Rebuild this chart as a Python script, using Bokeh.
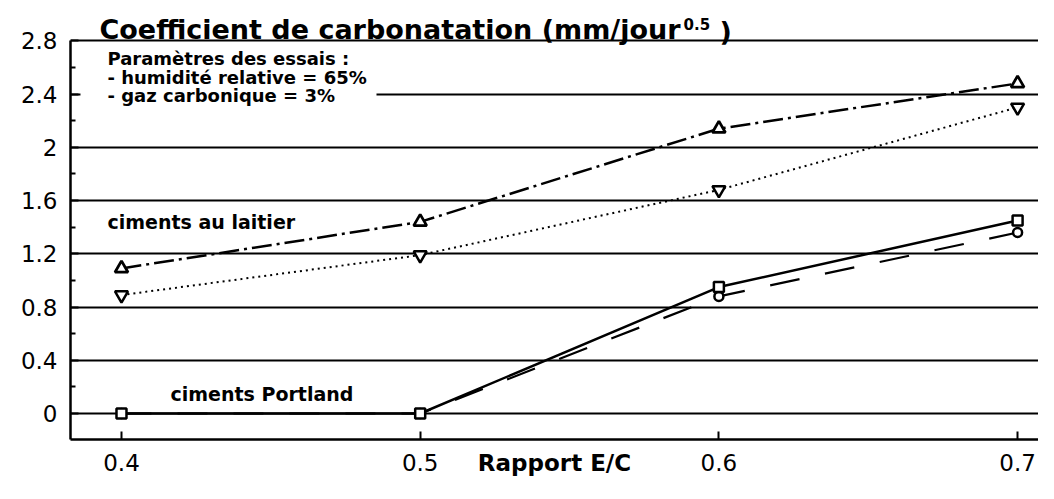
from bokeh.plotting import figure
from bokeh.models import (Range1d, FixedTicker, CustomJSTickFormatter, Label,
                          BoxAnnotation)
from bokeh.embed import file_html
from bokeh.resources import INLINE

# ---- data ----
ratio_ec = [0.4, 0.5, 0.6, 0.7]
laitier_triangle = [1.09, 1.44, 2.14, 2.48]
laitier_inverse = [0.89, 1.19, 1.68, 2.30]
portland_carre = [0.0, 0.0, 0.95, 1.45]
portland_cercle = [0.0, 0.0, 0.88, 1.36]
y_ticks = [0, 0.4, 0.8, 1.2, 1.6, 2.0, 2.4, 2.8]
x_ticks = [0.4, 0.5, 0.6, 0.7]

title_main = "Coefficient de carbonatation (mm/jour"
title_sup = "0.5"
title_end = ")"
x_label = "Rapport E/C"
params = ["Paramètres des essais :", "- humidité relative = 65%", "- gaz carbonique = 3%"]
lab_laitier = "ciments au laitier"
lab_portland = "ciments Portland"

FONT = "DejaVu Sans"
INK = "#000000"

p = figure(width=1038, height=483, output_backend="svg", toolbar_location=None,
           x_range=Range1d(0.38293, 0.7070), y_range=Range1d(-0.1953, 3.103),
           min_border_left=70, min_border_right=0, min_border_top=0, min_border_bottom=44)
p.outline_line_color = None
p.background_fill_color = "white"
p.border_fill_color = "white"

# grid
p.xgrid.visible = False
p.ygrid.ticker = FixedTicker(ticks=y_ticks)
p.ygrid.grid_line_color = INK
p.ygrid.grid_line_width = 1.8
p.ygrid.grid_line_alpha = 1.0

fmt = CustomJSTickFormatter(code="return tick.toFixed(1).replace(/\\.0$/, '');")

minor_y = [(a + b) / 2 for a, b in zip(y_ticks[:-1], y_ticks[1:])]
p.yaxis.ticker = FixedTicker(ticks=y_ticks, minor_ticks=minor_y)
p.yaxis.bounds = (-0.1953, y_ticks[-1])
p.xaxis.ticker = FixedTicker(ticks=x_ticks, minor_ticks=[])
for ax in (p.xaxis, p.yaxis):
    ax.formatter = fmt
    ax.axis_line_color = INK
    ax.axis_line_width = 2.5
    ax.major_tick_line_color = INK
    ax.major_tick_line_width = 2
    ax.major_tick_in = 8
    ax.major_tick_out = 0
    ax.minor_tick_line_color = INK
    ax.minor_tick_line_width = 2
    ax.minor_tick_in = 5
    ax.minor_tick_out = 0
    ax.major_label_text_font = FONT
    ax.major_label_text_font_size = "23px"
    ax.major_label_text_color = INK
p.yaxis.major_label_standoff = 13
p.xaxis.major_label_standoff = 14

p.xaxis.axis_label = x_label
p.xaxis.axis_label_text_font = FONT
p.xaxis.axis_label_text_font_size = "23px"
p.xaxis.axis_label_text_font_style = "bold"
p.xaxis.axis_label_text_color = INK
p.xaxis.axis_label_standoff = -24

# series
p.line(ratio_ec, laitier_triangle, line_color=INK, line_width=2.5, line_dash="20 5 3 5")
p.line(ratio_ec, laitier_inverse, line_color=INK, line_width=2, line_dash="2 4")
p.line(ratio_ec, portland_cercle, line_color=INK, line_width=2.2, line_dash="30 26")
p.line(ratio_ec, portland_carre, line_color=INK, line_width=2.5)

p.scatter(ratio_ec, laitier_triangle, marker="triangle", size=13, line_color=INK,
          line_width=2.8, fill_color="white")
p.scatter(ratio_ec, laitier_inverse, marker="inverted_triangle", size=13, line_color=INK,
          line_width=2.5, fill_color="white")
p.scatter(ratio_ec, portland_cercle, marker="circle", size=9, line_color=INK,
          line_width=2.5, fill_color="white")
p.scatter(ratio_ec, portland_carre, marker="square", size=10, line_color=INK,
          line_width=2.5, fill_color="white")

# white block behind the test parameters (hides the 2.4 line there)
p.add_layout(BoxAnnotation(left=0.38627, right=0.48537, bottom=2.30, top=2.75,
                           fill_color="white", fill_alpha=1.0, line_color=None))

def add_text(x, y, text, size, bold=True, align="left", baseline="middle"):
    p.add_layout(Label(x=x, y=y, text=text, text_font=FONT, text_font_size=size,
                       text_font_style="bold" if bold else "normal", text_color=INK,
                       text_align=align, text_baseline=baseline))

# title pieces
add_text(0.58715, 2.885, title_main, "27px", align="right", baseline="alphabetic")
add_text(0.58815, 2.925, title_sup, "15px", baseline="alphabetic")
add_text(0.60020, 2.870, title_end, "27px", baseline="alphabetic")

# test parameters
for txt, yy in zip(params, [2.667, 2.528, 2.389]):
    add_text(0.39531, yy, txt, "18px")

add_text(0.39531, 1.436, lab_laitier, "19px")
add_text(0.4164, 0.143, lab_portland, "19px")

open("out.html", "w").write(file_html(p, INLINE))
